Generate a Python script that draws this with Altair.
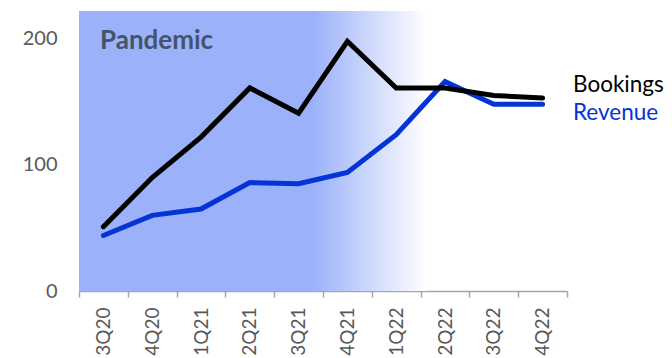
import altair as alt
import pandas as pd

quarters = ["3Q20", "4Q20", "1Q21", "2Q21", "3Q21", "4Q21", "1Q22", "2Q22", "3Q22", "4Q22"]
bookings = [51, 90, 122, 161, 141, 198, 161, 161, 155, 153]
revenue = [44, 60, 65, 86, 85, 94, 124, 166, 148, 148]
series_names = ["Bookings", "Revenue"]
series_colors = ["#000000", "#0433D6"]
y_ticks = [0, 100, 200]

W, H = 488, 280
FONT = "Lato"

df = pd.DataFrame({"quarter": quarters, "Bookings": bookings, "Revenue": revenue})

x_enc = alt.X(
    "quarter:N",
    sort=quarters,
    scale=alt.Scale(paddingInner=0, paddingOuter=0),
    axis=alt.Axis(
        title=None,
        labelAngle=-90,
        labelAlign="right",
        labelBaseline="middle",
        labelFont=FONT,
        labelFontSize=19,
        labelColor="#595959",
        labelPadding=10,
        domainColor="#A6A6A6",
        domainWidth=1.5,
        tickColor="#A6A6A6",
        tickWidth=1.5,
        tickSize=6,
        tickBand="extent",
        grid=False,
    ),
)

y_scale = alt.Scale(domain=[0, 222], nice=False)
y_axis = alt.Axis(
    title=None,
    values=y_ticks,
    labelFont=FONT,
    labelFontSize=20,
    labelColor="#595959",
    labelPadding=22,
    domain=False,
    ticks=False,
    grid=False,
)

# Pandemic period shading, fading out into 2022
shade = alt.Chart(pd.DataFrame({"period": ["Pandemic"]})).mark_rect(
    color=alt.Gradient(
        gradient="linear",
        x1=0, x2=1, y1=0, y2=0,
        stops=[
            alt.GradientStop(color="#9BB1F9", offset=0),
            alt.GradientStop(color="#9BB1F9", offset=0.67),
            alt.GradientStop(color="#FFFFFF", offset=1),
        ],
    )
).encode(
    x=alt.value(0), x2=alt.value(348), y=alt.value(0), y2=alt.value(H)
)

shade_label = alt.Chart(pd.DataFrame({"period": ["Pandemic"]})).mark_text(
    font=FONT, fontSize=26, fontWeight="bold", color="#44546A",
    align="left", baseline="middle",
).encode(text="period:N", x=alt.value(21), y=alt.value(30))

base = alt.Chart(df)

rev_line = base.mark_line(
    color=series_colors[1], strokeWidth=5, strokeCap="round", strokeJoin="miter"
).encode(x=x_enc, y=alt.Y("Revenue:Q", scale=y_scale, axis=y_axis))

book_line = base.mark_line(
    color=series_colors[0], strokeWidth=5, strokeCap="round", strokeJoin="miter"
).encode(x=x_enc, y=alt.Y("Bookings:Q", scale=y_scale, axis=y_axis))

labels = []
for name, color, ypos in zip(series_names, series_colors, [74, 102]):
    labels.append(
        alt.Chart(pd.DataFrame({"name": [name]})).mark_text(
            font=FONT, fontSize=22.5, color=color, align="left", baseline="middle"
        ).encode(text="name:N", x=alt.value(494), y=alt.value(ypos))
    )

chart = alt.layer(shade, shade_label, rev_line, book_line, *labels).properties(
    width=W,
    height=H,
    padding={"left": 79, "top": 11, "right": 105, "bottom": 67},
    autosize=alt.AutoSizeParams(type="none"),
).configure_view(stroke=None)

chart.save("out.html", embed_options={"renderer": "svg", "actions": False})
